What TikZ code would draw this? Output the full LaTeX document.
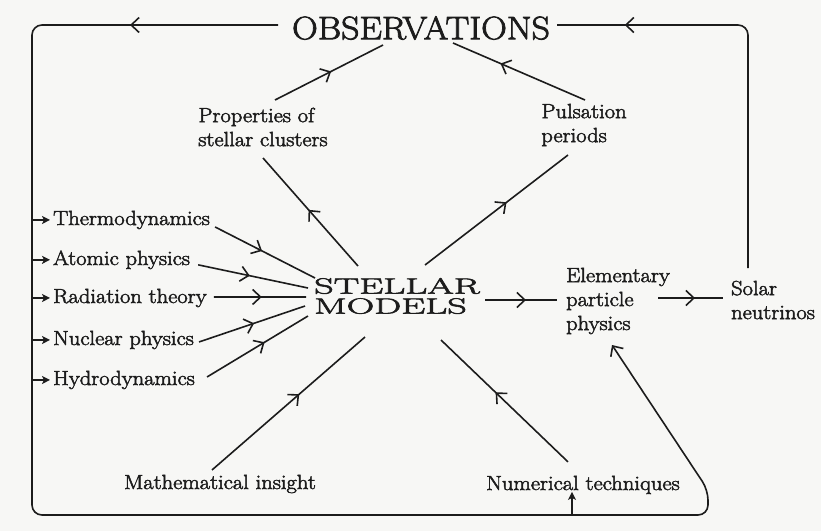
\documentclass[tikz,border=0pt]{standalone}
\usepackage{fontspec}
\setmainfont{Latin Modern Roman}[FakeBold=2.4,FakeStretch=1.1]
\usepackage{graphicx}
\usetikzlibrary{arrows.meta,decorations.markings,calc}
\definecolor{ink}{RGB}{28,28,28}
\definecolor{paper}{RGB}{247,247,245}
\begin{document}
\begin{tikzpicture}[x=1pt,y=-1pt,color=ink,
  every node/.style={inner sep=3pt},
  lbl/.style={font=\fontsize{20.5}{24}\selectfont},
  conn/.style={draw=ink,line width=1.6pt},
  midarr/.style={postaction={decorate},decoration={markings,
     mark=at position #1 with {\arrow{Straight Barb[length=8pt,width=15pt]}}}},
  midarr/.default=0.5,
  sarrow/.style={-{Stealth[length=8pt,width=8pt,inset=2pt]}},
  tiparr/.style={-{Straight Barb[length=8pt,width=15pt]}},
  loop/.style={conn,rounded corners=10pt},
]
\fill[paper] (0,0) rectangle (821,531);
\useasboundingbox (0,0) rectangle (821,531);

% nodes
\node[font=\fontsize{32.5}{36}\selectfont] (obs) at (421,28) {OBSERVATIONS};
\node[lbl,align=left] (prop) at (263,127) {Properties of\\stellar clusters};
\node[lbl,align=left] (puls) at (584,125) {Pulsation\\periods};
\node[align=left,font=\fontsize{22}{20}\selectfont] (sm) at (397,296)
  {\scalebox{1.58}[1]{STELLAR}\\\scalebox{1.58}[1]{MODELS}};
\node[lbl,align=left] (ep) at (618,301) {Elementary\\particle\\physics};
\node[lbl,align=left] (sn) at (773,300) {Solar\\neutrinos};
\node[lbl,anchor=base west] (thermo) at (50,225) {Thermodynamics};
\node[lbl,anchor=base west] (atomic) at (50,265) {Atomic physics};
\node[lbl,anchor=base west] (rad) at (50,303) {Radiation theory};
\node[lbl,anchor=base west] (nuc) at (50,345) {Nuclear physics};
\node[lbl,anchor=base west] (hydro) at (50,385) {Hydrodynamics};
\node[lbl,anchor=base] (mi) at (220,489) {Mathematical insight};
\node[lbl,anchor=base] (nt) at (583,490) {Numerical techniques};

% corner coordinates of the feedback loop
\coordinate (tl) at (32,25);
\coordinate (bl) at (32,515);
\coordinate (br) at (708,515);
\coordinate (bru) at (708,490);

% feedback loop: observations -> left side -> bottom -> particle physics
\draw[loop,midarr=148pt,tiparr] ($(obs)+(-143,-3)$) -| (bl) -- (br) -- (bru) -- ($(ep)+(-6,44)$);
% solar neutrinos -> observations
\draw[loop,midarr=362pt] ($(sn)+(-25,-32)$) |- ($(obs)+(136,-3)$);

% small arrows from the loop into the left labels
\foreach \n in {thermo,atomic,rad,nuc,hydro}
  \draw[conn,sarrow] (\n.west -| tl) -- (\n.west);
\coordinate (ntin) at ($(nt)+(-11,7)$);
\draw[conn,sarrow] (ntin |- bl) -- (ntin);

% inputs to stellar models
\draw[conn,midarr=0.47] ($(thermo.east)+(2,7)$) -- ($(sm)+(-82,-18)$);
\draw[conn,midarr=0.47] ($(atomic.east)+(5,5)$) -- ($(sm)+(-89,-8)$);
\draw[conn,midarr=0.52] ($(rad.east)+(4,-1)$) -- ($(sm)+(-91,1)$);
\draw[conn,midarr=0.52] ($(nuc.east)+(2,2)$) -- ($(sm)+(-92,10)$);
\draw[conn,midarr=0.57] ($(hydro.east)+(9,-3)$) -- ($(sm)+(-89,20)$);
\draw[conn,midarr=0.57] ($(mi)+(-8,-14)$) -- ($(sm)+(-32,41)$);
\draw[conn,midarr=0.57] ($(nt)+(-15,-23)$) -- ($(sm)+(44,44)$);

% outputs of stellar models
\draw[conn,midarr=0.52] ($(sm)+(-39,-30)$) -- ($(prop)+(0,31)$);
\draw[conn,midarr=0.57] ($(sm)+(28,-31)$) -- ($(puls)+(-16,30)$);
\draw[conn,midarr=0.57] ($(sm)+(88,4)$) -- ($(ep)+(-61,-1)$);
\draw[conn,midarr=0.57] ($(ep)+(40,-3)$) -- ($(sn)+(-50,-2)$);

% to observations
\draw[conn,midarr=0.52] ($(prop)+(12,-27)$) -- ($(obs)+(-38,17)$);
\draw[conn,midarr=0.64] ($(puls)+(1,-25)$) -- ($(obs)+(32,15)$);
\end{tikzpicture}
\end{document}
